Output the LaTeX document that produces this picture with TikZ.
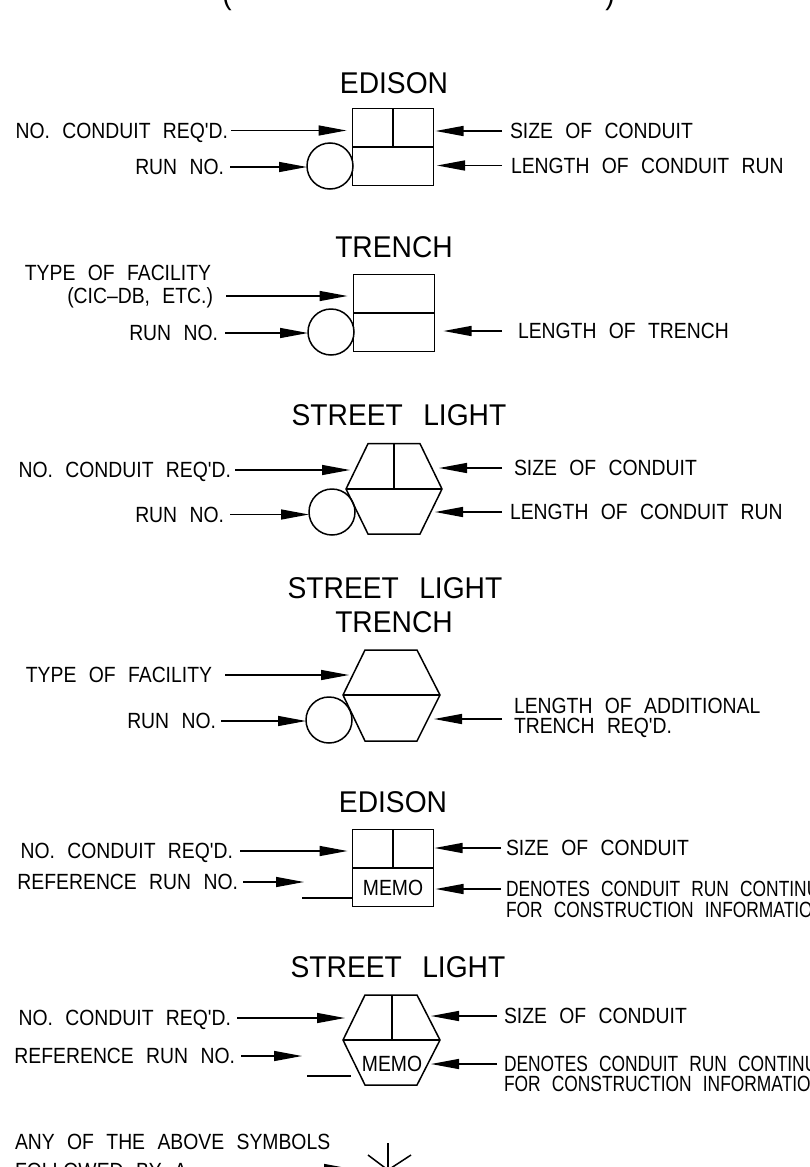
\documentclass[tikz,border=0pt]{standalone}
\usepackage{fontspec}
\usetikzlibrary{arrows.meta}
\newfontfamily\cadfont[FakeStretch=0.88,WordSpace=2.3]{Liberation Sans}
\newfontfamily\cadnarrow[FakeStretch=0.79,WordSpace=2.3]{Liberation Sans}
\newfontfamily\cadtitle[FakeStretch=0.94,WordSpace=2.6]{Liberation Sans}

\begin{document}
\begin{tikzpicture}[x=1pt,y=-1pt]
\tikzset{
	lbl/.style={inner sep=0pt, outer sep=0pt, text height=15.8pt, text depth=0pt, font=\cadfont\fontsize{22}{24}\selectfont},
	lbn/.style={lbl, font=\cadnarrow\fontsize{22}{24}\selectfont},
	ttl/.style={inner sep=0pt, outer sep=0pt, text height=21.5pt, text depth=0pt, font=\cadtitle\fontsize{30}{34}\selectfont},
	sym/.style={draw=black, line width=1.5pt},
	cell/.style={sym, inner sep=0pt, outer sep=0pt, minimum width=81pt, minimum height=76.6pt},
	run/.style={sym, circle, inner sep=0pt, outer sep=0pt, minimum size=46pt},
	arr/.style={-{Triangle[length=28pt,width=10pt]}, line width=1.4pt}
}
\useasboundingbox (0,0) rectangle (810,1167);

% heading, cut by the page
\node[ttl, anchor=base] (hd_l) at (227,5) {(};
\node[ttl, anchor=base] (hd_r) at (610,5) {)};

% edison
\node[ttl] (ed_t) at (394,82.5) {EDISON};
\node[cell] (ed_box) at (393,147) {};
\node[run] (ed_run) at (330,166) {};
\draw[sym] (ed_box.west |- 0,147) -- (ed_box.east |- 0,147);
\draw[sym] (ed_box.north) -- (393,147);
\node[lbl, anchor=east] (ed_l1) at (228,130.5) {NO. CONDUIT REQ'D.};
\node[lbl, anchor=east] (ed_l2) at (224,167) {RUN NO.};
\node[lbl, anchor=west] (ed_r1) at (510,131) {SIZE OF CONDUIT};
\node[lbl, anchor=west] (ed_r2) at (511,165.5) {LENGTH OF CONDUIT RUN};
\draw[arr, shorten <=3pt, shorten >=6pt] (ed_l1.east) -- (ed_l1.east -| ed_box.west);
\draw[arr, shorten <=6pt] (ed_l2.east) -- (ed_l2.east -| ed_run.west);
\draw[arr, shorten <=8pt, shorten >=2pt] (ed_r1.west) -- (ed_r1.west -| ed_box.east);
\draw[arr, shorten <=9pt, shorten >=3.5pt] (ed_r2.west) -- (ed_r2.west -| ed_box.east);

% trench
\node[ttl] (tr_t) at (394,247) {TRENCH};
\node[cell] (tr_box) at (394,313) {};
\node[run] (tr_run) at (331,332) {};
\draw[sym] (tr_box.west |- 0,313) -- (tr_box.east |- 0,313);
\node[lbl, anchor=east] (tr_l0) at (211,273) {TYPE OF FACILITY};
\node[lbl, anchor=east] (tr_l1) at (213,296) {(CIC–DB, ETC.)};
\node[lbl, anchor=east] (tr_l2) at (218,333) {RUN NO.};
\node[lbl, anchor=west] (tr_r1) at (518,331) {LENGTH OF TRENCH};
\draw[arr, shorten <=13pt, shorten >=6pt] (tr_l1.east) -- (tr_l1.east -| tr_box.west);
\draw[arr, shorten <=7pt] (tr_l2.east) -- (tr_l2.east -| tr_run.west);
\draw[arr, shorten <=16pt, shorten >=9pt] (tr_r1.west) -- (tr_r1.west -| tr_box.east);

% street light
\node[ttl] (sl_t) at (399,415) {STREET LIGHT};
\draw[sym] (368,443.7) -- (420,443.7) -- (442,489) -- (420,534) -- (368,534) -- (346,489) -- cycle;
\draw[sym] (346,489) -- (442,489);
\draw[sym] (394,443.7) -- (394,489);
\node[run] (sl_run) at (332,512) {};
\coordinate (sl_a1) at (350,470);
\coordinate (sl_a2) at (439,468);
\coordinate (sl_a3) at (435,512);
\node[lbl, anchor=east] (sl_l1) at (231,470) {NO. CONDUIT REQ'D.};
\node[lbl, anchor=east] (sl_l2) at (224,514.5) {RUN NO.};
\node[lbl, anchor=west] (sl_r1) at (514,468) {SIZE OF CONDUIT};
\node[lbl, anchor=west] (sl_r2) at (510,512) {LENGTH OF CONDUIT RUN};
\draw[arr, shorten <=4pt] (sl_l1.east) -- (sl_a1);
\draw[arr, shorten <=6pt] (sl_l2.east) -- (sl_l2.east -| sl_run.west);
\draw[arr, shorten <=12pt] (sl_r1.west) -- (sl_a2);
\draw[arr, shorten <=8pt] (sl_r2.west) -- (sl_a3);

% street light trench
\node[ttl] (st_t1) at (395,588) {STREET LIGHT};
\node[ttl] (st_t2) at (394,622) {TRENCH};
\draw[sym] (365,650) -- (417,650) -- (440,695) -- (417,741) -- (365,741) -- (343,695) -- cycle;
\draw[sym] (343,695) -- (440,695);
\node[run] (st_run) at (329,720) {};
\coordinate (st_a1) at (349,675);
\coordinate (st_a2) at (434,719);
\node[lbl, anchor=east] (st_l1) at (212,675) {TYPE OF FACILITY};
\node[lbl, anchor=east] (st_l2) at (216,721) {RUN NO.};
\node[lbl, anchor=west] (st_r1) at (514,706) {LENGTH OF ADDITIONAL};
\node[lbl, anchor=west] (st_r2) at (514,726) {TRENCH REQ'D.};
\coordinate (st_c) at (514,719);
\draw[arr, shorten <=13pt] (st_l1.east) -- (st_a1);
\draw[arr, shorten <=5pt] (st_l2.east) -- (st_l2.east -| st_run.west);
\draw[arr, shorten <=12pt] (st_c) -- (st_a2);

% edison memo
\node[ttl] (em_t) at (393,802) {EDISON};
\node[cell] (em_box) at (393,868) {};
\draw[sym] (em_box.west |- 0,868) -- (em_box.east |- 0,868);
\draw[sym] (em_box.north) -- (393,868);
\node[lbl] (em_memo) at (393,888) {MEMO};
\draw[sym] (302,898) -- (em_box.west |- 0,898);
\coordinate (em_a2) at (304,882);
\node[lbl, anchor=east] (em_l1) at (233,851) {NO. CONDUIT REQ'D.};
\node[lbl, anchor=east] (em_l2) at (238,882) {REFERENCE RUN NO.};
\node[lbl, anchor=west] (em_r1) at (506,848) {SIZE OF CONDUIT};
\node[lbn, anchor=west] (em_r2) at (506,889) {DENOTES CONDUIT RUN CONTINUES};
\node[lbn, anchor=west] (em_r3) at (506,910) {FOR CONSTRUCTION INFORMATION};
\draw[arr, shorten <=7pt, shorten >=5pt] (em_l1.east) -- (em_l1.east -| em_box.west);
\draw[arr, shorten <=5pt] (em_l2.east) -- (em_a2);
\draw[arr, shorten <=5pt, shorten >=1pt] (em_r1.west) -- (em_r1.west -| em_box.east);
\draw[arr, shorten <=5pt, shorten >=2pt] (em_r2.west) -- (em_r2.west -| em_box.east);

% street light memo
\node[ttl] (sm_t) at (398,967) {STREET LIGHT};
\draw[sym] (365,995) -- (417,995) -- (440,1040) -- (417,1085) -- (365,1085) -- (343,1040) -- cycle;
\draw[sym] (343,1040) -- (440,1040);
\draw[sym] (392,995) -- (392,1040);
\node[lbl] (sm_memo) at (392,1064) {MEMO};
\draw[sym] (307,1076) -- (351,1076);
\coordinate (sm_a1) at (345,1018);
\coordinate (sm_a2) at (302,1056);
\coordinate (sm_a3) at (431,1016);
\coordinate (sm_a4) at (431,1064);
\node[lbl, anchor=east] (sm_l1) at (231,1018) {NO. CONDUIT REQ'D.};
\node[lbl, anchor=east] (sm_l2) at (235,1056) {REFERENCE RUN NO.};
\node[lbl, anchor=west] (sm_r1) at (504,1016) {SIZE OF CONDUIT};
\node[lbn, anchor=west] (sm_r2) at (504,1064) {DENOTES CONDUIT RUN CONTINUES};
\node[lbn, anchor=west] (sm_r3) at (504,1084) {FOR CONSTRUCTION INFORMATION};
\draw[arr, shorten <=6pt] (sm_l1.east) -- (sm_a1);
\draw[arr, shorten <=6pt] (sm_l2.east) -- (sm_a2);
\draw[arr, shorten <=7pt] (sm_r1.west) -- (sm_a3);
\draw[arr, shorten <=7pt] (sm_r2.west) -- (sm_a4);

% last symbol, cut by the page
\node[lbl, anchor=west] (ls_l1) at (15,1142) {ANY OF THE ABOVE SYMBOLS};
\node[lbl, anchor=west] (ls_l2) at (15,1171) {FOLLOWED BY A};
\coordinate (ls_a) at (352,1169);
\draw[sym] (388,1143) -- (388,1172);
\draw[sym] (368,1155) -- (388,1170) -- (411,1155);
\draw[arr, shorten <=8pt] (ls_l2.east |- ls_a) -- (ls_a);

\end{tikzpicture}
\end{document}
